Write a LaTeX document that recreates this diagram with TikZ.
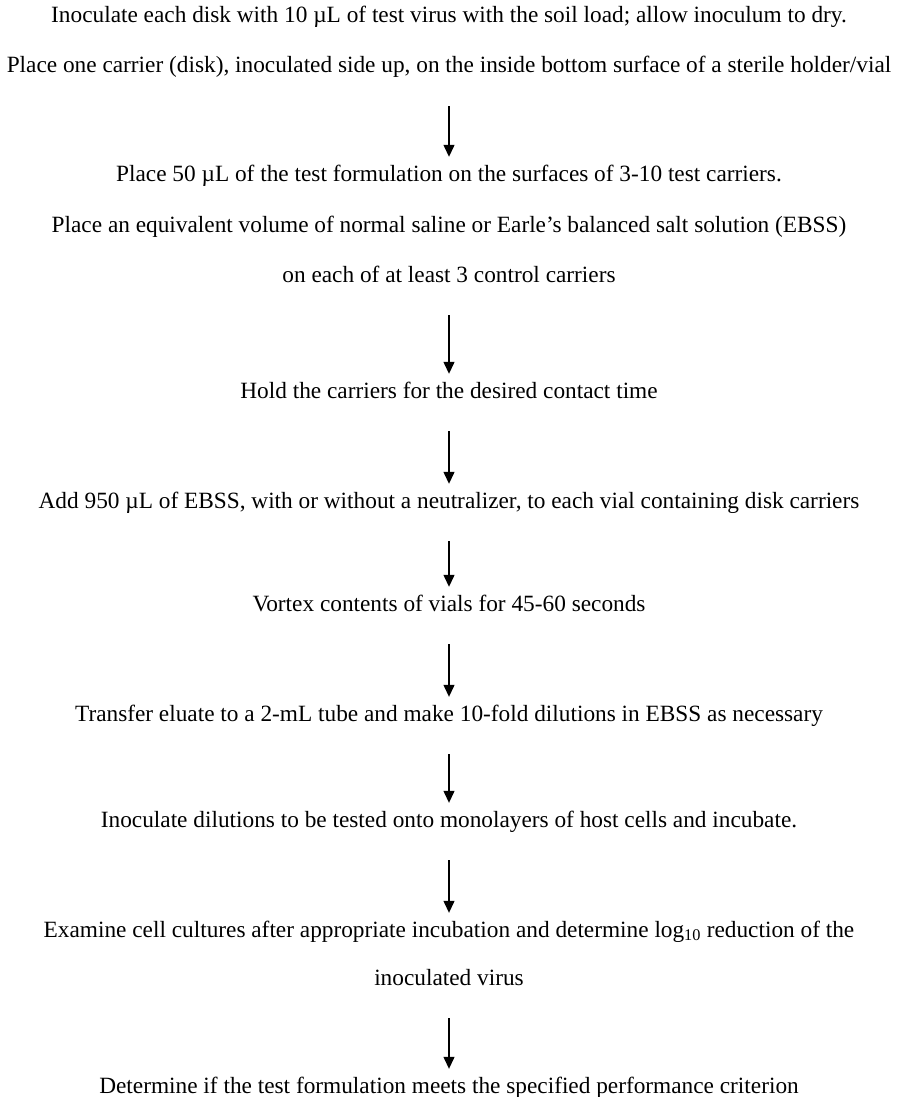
\documentclass[tikz,border=0pt]{standalone}
\usepackage{fontspec}
\setmainfont{Liberation Serif}
\usetikzlibrary{arrows.meta}
\tikzset{
  steptext/.style={inner sep=0pt, text height=15pt, text depth=5pt,
    font=\fontsize{23.3}{28}\selectfont},
}
\begin{document}
\begin{tikzpicture}[x=1pt,y=-1pt]
      \useasboundingbox (0,0) rectangle (898,1097);
      \path[every node/.style={steptext}]
        (449,18) node (t1){Inoculate each disk with 10 µL of test virus with the soil load; allow inoculum to dry.}
        (449,68) node (t2){Place one carrier (disk), inoculated side up, on the inside bottom surface of a sterile holder/vial}
        (449,176) node (t3){Place 50 µL of the test formulation on the surfaces of 3-10 test carriers.}
        (449,227) node (t4){Place an equivalent volume of normal saline or Earle’s balanced salt solution (EBSS)}
        (449,277) node (t5){on each of at least 3 control carriers}
        (449,393) node (t6){Hold the carriers for the desired contact time}
        (449,503) node (t7){Add 950 µL of EBSS, with or without a neutralizer, to each vial containing disk carriers}
        (449,606) node (t8){Vortex contents of vials for 45-60 seconds}
        (449,716) node (t9){Transfer eluate to a 2-mL tube and make 10-fold dilutions in EBSS as necessary}
        (449,822) node (t10){Inoculate dilutions to be tested onto monolayers of host cells and incubate.}
        (449,932) node (t11){Examine cell cultures after appropriate incubation and determine log\textsubscript{10} reduction of the}
        (449,980) node (t12){inoculated virus}
        (449,1088) node (t13){Determine if the test formulation meets the specified performance criterion};
      \begin{scope}[-{Triangle[width=11pt,length=12pt]}, line width=1.3pt,
          shorten <=28pt, shorten >=9pt]
        \draw (t2) to (t3);
        \draw (t5) to (t6);
        \draw (t6) to (t7);
        \draw (t7) to (t8);
        \draw (t8) to (t9);
        \draw (t9) to (t10);
        \draw (t10) to (t11);
        \draw (t12) to (t13);
      \end{scope}
    \end{tikzpicture}
\end{document}
